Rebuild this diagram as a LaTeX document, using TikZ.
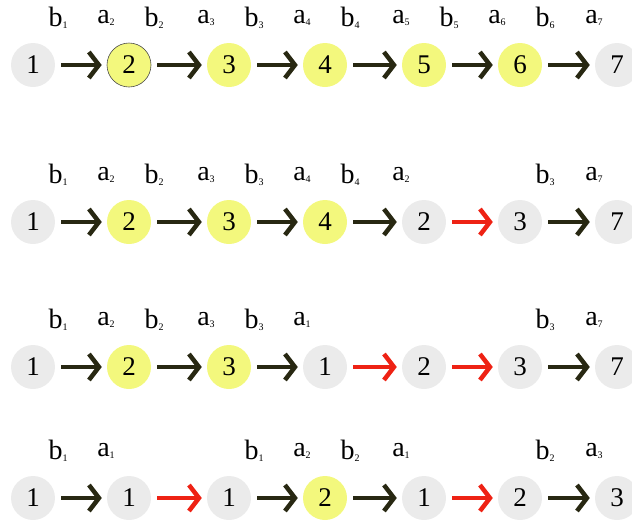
\documentclass[tikz,border=0pt]{standalone}
\usepackage{fontspec}
\setmainfont{Liberation Serif}
\usepackage{tikz}
\usetikzlibrary{arrows.meta, calc}
\definecolor{nodegrey}{RGB}{235,235,235}
\definecolor{nodeyellow}{RGB}{243,248,125}
\definecolor{arrowdark}{RGB}{40,40,18}
\definecolor{backred}{RGB}{238,34,20}
\newcommand{\ix}[2]{#1\raisebox{-1.5pt}{\fontsize{10}{10}\selectfont #2}}

\begin{document}
\begin{tikzpicture}[
    x=1pt, y=-1pt,
    nd/.style={circle, minimum size=44pt, inner sep=0pt, font=\fontsize{27}{29}\selectfont},
    greynode/.style={nd, fill=nodegrey},
    yellownode/.style={nd, fill=nodeyellow},
    ringnode/.style={yellownode, draw=black!70, line width=0.6pt},
    lbl/.style={font=\fontsize{28}{30}\selectfont, inner sep=0pt},
    link/.style={-{Straight Barb[length=10pt, width=26pt]}, line width=4.5pt, draw=arrowdark,
                 shorten <=6pt, shorten >=5pt},
    backlink/.style={link, draw=backred}
]
    \useasboundingbox (0,0) rectangle (632,523);

    % row 1
    \foreach \k/\x/\t/\s in {1/33/1/greynode, 2/129/2/ringnode, 3/229/3/yellownode, 4/325/4/yellownode,
                             5/424/5/yellownode, 6/520/6/yellownode, 7/617/7/greynode}
        \node[\s] (r1n\k) at (\x,65) {\t};
    \foreach \i/\j/\s in {1/2/link, 2/3/link, 3/4/link, 4/5/link, 5/6/link, 6/7/link}
        \draw[\s] (r1n\i) -- (r1n\j);
    \foreach \k [evaluate=\k as \m using int(\k+1)] in {1,...,6} {
        \node[lbl] (r1b\k) at ($(r1n\k)+(25,-47)$) {\ix{b}{\k}};
        \node[lbl] (r1a\m) at ($(r1n\m)+(-23,-47)$) {\ix{a}{\m}};
    }

    % row 2
    \foreach \k/\x/\t/\s in {1/33/1/greynode, 2/129/2/yellownode, 3/229/3/yellownode, 4/325/4/yellownode,
                             5/424/2/greynode, 6/520/3/greynode, 7/617/7/greynode}
        \node[\s] (r2n\k) at (\x,222) {\t};
    \foreach \i/\j/\s in {1/2/link, 2/3/link, 3/4/link, 4/5/link, 5/6/backlink, 6/7/link}
        \draw[\s] (r2n\i) -- (r2n\j);
    \foreach \k/\t in {1/1, 2/2, 3/3, 4/4, 6/3}
        \node[lbl] (r2b\k) at ($(r2n\k)+(25,-47)$) {\ix{b}{\t}};
    \foreach \k/\t in {2/2, 3/3, 4/4, 5/2, 7/7}
        \node[lbl] (r2a\k) at ($(r2n\k)+(-23,-47)$) {\ix{a}{\t}};

    % row 3
    \foreach \k/\x/\t/\s in {1/33/1/greynode, 2/129/2/yellownode, 3/229/3/yellownode, 4/325/1/greynode,
                             5/424/2/greynode, 6/520/3/greynode, 7/617/7/greynode}
        \node[\s] (r3n\k) at (\x,367) {\t};
    \foreach \i/\j/\s in {1/2/link, 2/3/link, 3/4/link, 4/5/backlink, 5/6/backlink, 6/7/link}
        \draw[\s] (r3n\i) -- (r3n\j);
    \foreach \k/\t in {1/1, 2/2, 3/3, 6/3}
        \node[lbl] (r3b\k) at ($(r3n\k)+(25,-47)$) {\ix{b}{\t}};
    \foreach \k/\t in {2/2, 3/3, 4/1, 7/7}
        \node[lbl] (r3a\k) at ($(r3n\k)+(-23,-47)$) {\ix{a}{\t}};

    % row 4
    \foreach \k/\x/\t/\s in {1/33/1/greynode, 2/129/1/greynode, 3/229/1/greynode, 4/325/2/yellownode,
                             5/424/1/greynode, 6/520/2/greynode, 7/617/3/greynode}
        \node[\s] (r4n\k) at (\x,498) {\t};
    \foreach \i/\j/\s in {1/2/link, 2/3/backlink, 3/4/link, 4/5/link, 5/6/backlink, 6/7/link}
        \draw[\s] (r4n\i) -- (r4n\j);
    \foreach \k/\t in {1/1, 3/1, 4/2, 6/2}
        \node[lbl] (r4b\k) at ($(r4n\k)+(25,-47)$) {\ix{b}{\t}};
    \foreach \k/\t in {2/1, 4/2, 5/1, 7/3}
        \node[lbl] (r4a\k) at ($(r4n\k)+(-23,-47)$) {\ix{a}{\t}};
\end{tikzpicture}
\end{document}
